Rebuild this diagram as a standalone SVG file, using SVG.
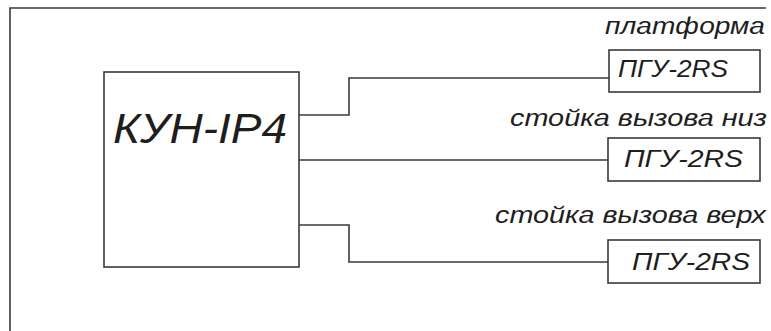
<svg xmlns="http://www.w3.org/2000/svg" width="771" height="331" viewBox="0 0 771 331">
<style>
.ln{fill:none;stroke:#3a3a3a;stroke-width:1.6}
.bx{fill:#fff;stroke:#3a3a3a;stroke-width:1.6}
.t{font-family:"Liberation Sans",Arial,sans-serif;font-style:italic;fill:#1e1e1e}
.big{font-size:42px}
.dev{font-size:23px}
.lbl{font-size:23px}
</style>
<rect width="771" height="331" fill="#fff"/>
<g id="frame">
<path class="ln" d="M10,331 V8 H766"/>
</g>
<g id="connectors">
<path class="ln" d="M299,115 H349 V78 H609"/>
<path class="ln" d="M299,160 H608"/>
<path class="ln" d="M299,225 H349 V262 H608"/>
</g>
<g id="kun">
<rect class="bx" x="104" y="72" width="195" height="195"/>
<text class="t big" x="113" y="143" textLength="174" lengthAdjust="spacingAndGlyphs">КУН-IP4</text>
</g>
<g id="pgu1">
<text class="t lbl" x="605" y="34" textLength="160" lengthAdjust="spacingAndGlyphs">платформа</text>
<rect class="bx" x="609" y="50" width="151" height="42"/>
<text class="t dev" x="618" y="77" textLength="110" lengthAdjust="spacingAndGlyphs">ПГУ-2RS</text>
</g>
<g id="pgu2">
<text class="t lbl" x="510" y="126" textLength="257" lengthAdjust="spacingAndGlyphs">стойка вызова низ</text>
<rect class="bx" x="608" y="138" width="152" height="43"/>
<text class="t dev" x="624" y="167" textLength="119" lengthAdjust="spacingAndGlyphs">ПГУ-2RS</text>
</g>
<g id="pgu3">
<text class="t lbl" x="495" y="223" textLength="271" lengthAdjust="spacingAndGlyphs">стойка вызова верх</text>
<rect class="bx" x="608" y="240" width="152" height="43"/>
<text class="t dev" x="632" y="270" textLength="118" lengthAdjust="spacingAndGlyphs">ПГУ-2RS</text>
</g>
</svg>
